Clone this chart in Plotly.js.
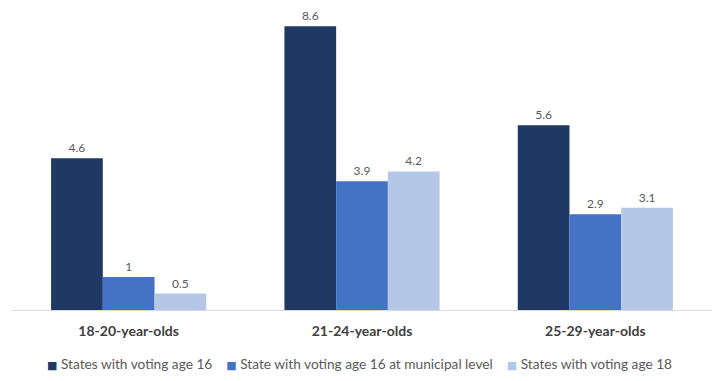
<!DOCTYPE html>
<html>
<head>
<meta charset="utf-8">
<script src="https://cdn.plot.ly/plotly-3.0.1.min.js"></script>
<style>html,body{margin:0;padding:0;background:#fff;}#chart{width:720px;height:381px;}</style>
</head>
<body>
<div id="chart"></div>
<script>
var categories = ["18-20-year-olds", "21-24-year-olds", "25-29-year-olds"];
var seriesNames = ["States with voting age 16", "State with voting age 16 at municipal level", "States with voting age 18"];
var age16 = [4.6, 8.6, 5.6];
var municipal16 = [1, 3.9, 2.9];
var age18 = [0.5, 4.2, 3.1];
var colors = ["#203864", "#4472c4", "#b4c7e7"];

var values = [age16, municipal16, age18];
var traces = values.map(function(v, i) {
  return {
    type: "bar",
    name: seriesNames[i],
    x: categories,
    y: v,
    marker: {color: colors[i]},
    text: v.map(String),
    textposition: "outside",
    textfont: {family: "Lato, sans-serif", size: 12, color: "#595959"},
    cliponaxis: false,
    showlegend: false,
    hoverinfo: "none"
  };
});

var sep = "\u00A0\u00A0\u00A0\u00A0";
var legendText = seriesNames.map(function(n, i) {
  return '<span style="color:' + colors[i] + ';font-family:DejaVu Sans;font-size:11px">\u25A0</span>\u00A0' + n;
}).join(sep);

var layout = {
  width: 720, height: 381,
  margin: {l: 12, r: 8, t: 10, b: 71},
  paper_bgcolor: "#ffffff",
  plot_bgcolor: "#ffffff",
  barmode: "group",
  bargap: 0.335,
  bargroupgap: 0,
  showlegend: false,
  font: {family: "Lato, sans-serif", color: "#595959"},
  xaxis: {
    showline: true, linecolor: "#d9d9d9", linewidth: 1,
    ticks: "", showgrid: false, zeroline: false,
    tickfont: {family: "Lato, sans-serif", size: 14, color: "#404040", weight: "bold"},
    ticklabelstandoff: 8
  },
  yaxis: {
    range: [0, 9.09], visible: false, showgrid: false, zeroline: false
  },
  annotations: [{
    xref: "paper", yref: "paper", x: 0.497, y: -0.1767,
    xanchor: "center", yanchor: "middle", showarrow: false,
    text: legendText,
    font: {family: "Lato, sans-serif", size: 13.7, color: "#595959"}
  }]
};

Plotly.newPlot("chart", traces, layout, {staticPlot: true});
</script>
</body>
</html>
